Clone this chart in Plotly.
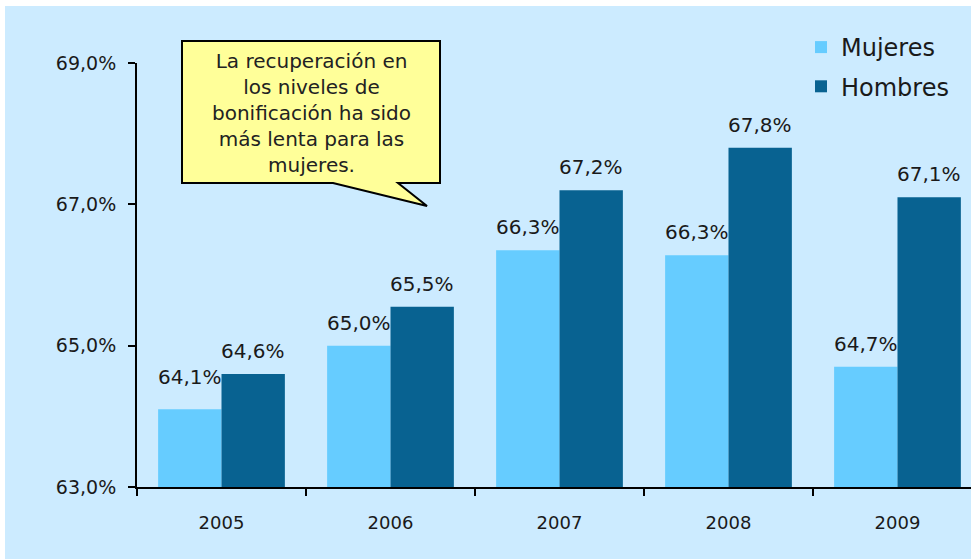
import plotly.graph_objects as go

years = ["2005", "2006", "2007", "2008", "2009"]
mujeres = [64.1, 65.0, 66.35, 66.28, 64.7]
hombres = [64.6, 65.55, 67.2, 67.8, 67.1]
labels_m = ["64,1%", "65,0%", "66,3%", "66,3%", "64,7%"]
labels_h = ["64,6%", "65,5%", "67,2%", "67,8%", "67,1%"]
y_ticks = [63, 65, 67, 69]
y_ticktext = ["63,0%", "65,0%", "67,0%", "69,0%"]

# extra vertical offset (px) of each women label, as placed in the original
label_lift_m = [9, 0, 0, 0, 0]

W, H = 971, 559
ML, MR, MT, MB = 137, 0, 63, 72
PW, PH = W - ML - MR, H - MT - MB


def px(xp):
    return (xp - ML) / PW


def py(yp):
    return (H - MB - yp) / PH


BG = "#CCEBFF"
C_M = "#66CCFF"
C_H = "#086291"
FONT = "DejaVu Sans"

fig = go.Figure()
fig.add_trace(go.Bar(name="Mujeres", x=years, y=mujeres, marker_color=C_M,
                     marker_line_width=0, legendgroup="m"))
fig.add_trace(go.Bar(name="Hombres", x=years, y=hombres, marker_color=C_H,
                     marker_line_width=0, legendgroup="h"))

annotations = []
for i in range(len(years)):
    annotations.append(dict(x=i - 0.1875, y=mujeres[i], xref="x", yref="y",
                            text=labels_m[i], showarrow=False, yanchor="bottom",
                            yshift=9 + label_lift_m[i],
                            font=dict(family=FONT, size=20, color="#1a1a1a")))
    annotations.append(dict(x=i + 0.1875, y=hombres[i], xref="x", yref="y",
                            text=labels_h[i], showarrow=False, yanchor="bottom",
                            yshift=9, font=dict(family=FONT, size=20, color="#1a1a1a")))

# callout text
annotations.append(dict(
    x=px(311), y=py(113), xref="paper", yref="paper",
    text="La recuperación en<br>los niveles de<br>bonificación ha sido<br>más lenta para las<br>mujeres.",
    showarrow=False, xanchor="center", yanchor="middle", align="center",
    font=dict(family=FONT, size=20, color="#222222")))

callout_path = (
    f"M {px(182)},{py(41)} L {px(440)},{py(41)} L {px(440)},{py(183)} "
    f"L {px(398)},{py(183)} L {px(427)},{py(206)} L {px(333)},{py(183)} "
    f"L {px(182)},{py(183)} Z"
)

shapes = [
    dict(type="path", path=callout_path, xref="paper", yref="paper",
         fillcolor="#FFFF99", line=dict(color="black", width=2), layer="below"),
    # white strips at top and left edge
    dict(type="rect", xref="paper", yref="paper", x0=px(-10), x1=px(990),
         y0=py(6), y1=py(-10), fillcolor="white", line_width=0, layer="above"),
    dict(type="rect", xref="paper", yref="paper", x0=px(-10), x1=px(5),
         y0=py(570), y1=py(-10), fillcolor="white", line_width=0, layer="above"),
]

fig.update_layout(
    width=W, height=H,
    margin=dict(l=ML, r=MR, t=MT, b=MB, pad=0),
    paper_bgcolor=BG, plot_bgcolor="rgba(0,0,0,0)",
    barmode="group", bargap=0.25, bargroupgap=0,
    showlegend=True,
    legend=dict(x=px(801), y=py(25), xanchor="left", yanchor="top",
                bgcolor="rgba(0,0,0,0)", font=dict(family=FONT, size=24, color="#1a1a1a"),
                itemwidth=30, tracegroupgap=5),
    annotations=annotations,
    shapes=shapes,
    xaxis=dict(type="category", range=[-0.5, 4.435], showgrid=False,
               showline=True, linecolor="black", linewidth=2,
               ticks="outside", tickson="boundaries", ticklen=7, tickwidth=1.5,
               tickcolor="black", ticklabelstandoff=18,
               tickfont=dict(family=FONT, size=18, color="#1a1a1a"), zeroline=False),
    yaxis=dict(range=[63, 69], showgrid=False, zeroline=False,
               showline=True, linecolor="black", linewidth=2,
               tickvals=y_ticks, ticktext=y_ticktext,
               ticks="outside", ticklen=7, tickwidth=1.5, tickcolor="black",
               ticklabelstandoff=8,
               tickfont=dict(family=FONT, size=19, color="#1a1a1a")),
)

fig.write_html("out.html", post_script="document.body.style.margin='0';",
               config={"displayModeBar": False})
